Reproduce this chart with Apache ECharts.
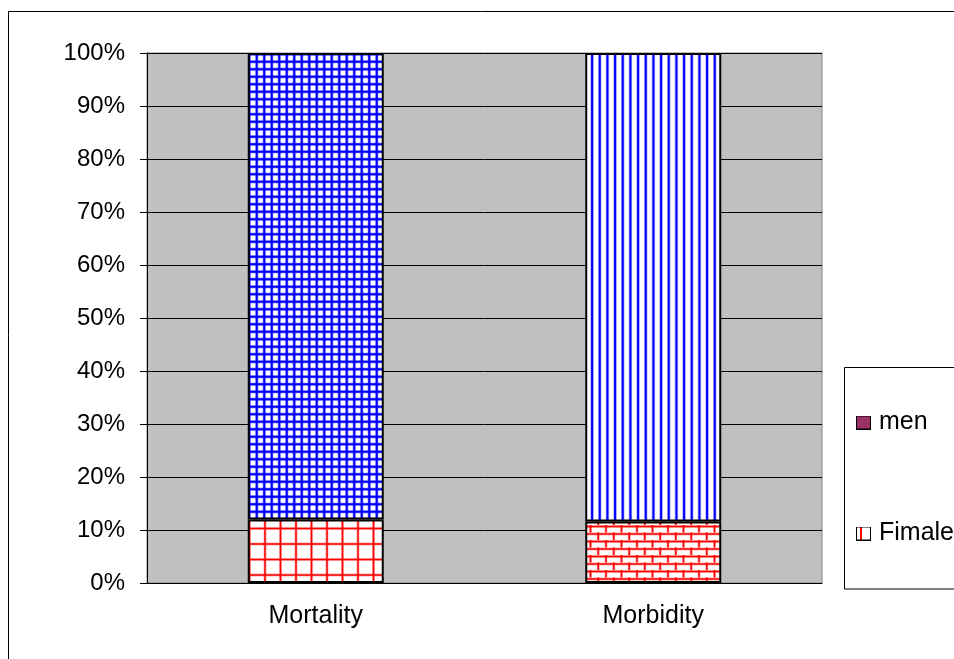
<!DOCTYPE html>
<html><head><meta charset="utf-8">
<script src="https://cdn.jsdelivr.net/npm/echarts@6/dist/echarts.min.js"></script>
<style>html,body{margin:0;padding:0;background:#fff}#c{width:954px;height:659px}</style>
</head><body><div id="c"></div>
<script>
const categories = ['Mortality', 'Morbidity'];
const femaleValues = [12, 11.6];
const menValues = [88, 88.4];
const seriesNames = ['men', 'Fimale'];

function mkCanvas(w, h, draw) {
  const c = document.createElement('canvas');
  c.width = w; c.height = h;
  const x = c.getContext('2d');
  x.fillStyle = '#fff'; x.fillRect(0, 0, w, h);
  draw(x);
  return c;
}
function pat(w, h, draw) { return { image: mkCanvas(w, h, draw), repeat: 'repeat' }; }

const blueGrid = pat(15, 15, x => {
  x.fillStyle = 'rgba(0,0,255,0.3)';
  [0, 7.5].forEach(p => { x.fillRect(p, 0, 3.5, 15); x.fillRect(0, p, 15, 3.5); });
  x.fillStyle = '#0000ff';
  [0.75, 8.25].forEach(p => { x.fillRect(p, 0, 2, 15); x.fillRect(0, p, 15, 2); });
});
const redGrid = pat(31, 31, x => {
  x.fillStyle = 'rgba(255,0,0,0.3)';
  [0, 15.5].forEach(p => { x.fillRect(p, 0, 3, 31); x.fillRect(0, p, 31, 3); });
  x.fillStyle = '#ff0000';
  [0.75, 16.25].forEach(p => { x.fillRect(p, 0, 1.5, 31); x.fillRect(0, p, 31, 1.5); });
});
const blueVert = pat(23, 4, x => {
  x.fillStyle = 'rgba(0,0,255,0.3)';
  [0, 7.67, 15.33].forEach(p => x.fillRect(p, 0, 3.5, 4));
  x.fillStyle = '#0000ff';
  [0.75, 8.42, 16.08].forEach(p => x.fillRect(p, 0, 2, 4));
});
const brick = pat(31, 15, x => {
  x.fillStyle = 'rgba(255,0,0,0.3)';
  [0, 7.5].forEach(p => x.fillRect(0, p, 31, 3));
  [0, 15.5].forEach(p => x.fillRect(p, 0, 3, 7.5));
  [7.75, 23.25].forEach(p => x.fillRect(p, 7.5, 3, 7.5));
  x.fillStyle = '#ff0000';
  [0.75, 8.25].forEach(p => x.fillRect(0, p, 31, 1.5));
  [0.75, 16.25].forEach(p => x.fillRect(p, 0, 1.5, 7.5));
  [8.5, 24].forEach(p => x.fillRect(p, 7.5, 1.5, 7.5));
});

const menIcon = 'image://' + mkCanvas(15, 14, x => {
  x.fillStyle = '#993366'; x.fillRect(0, 0, 15, 14);
  x.strokeStyle = '#000'; x.lineWidth = 1; x.strokeRect(0.5, 0.5, 14, 13);
}).toDataURL();
const femIcon = 'image://' + mkCanvas(15, 14, x => {
  x.fillStyle = '#ff0000'; x.fillRect(4, 0, 2, 14);
  x.strokeStyle = '#000'; x.lineWidth = 1; x.strokeRect(0.5, 0.5, 14, 13);
}).toDataURL();

const menPatterns = [blueGrid, blueVert];
const femPatterns = [redGrid, brick];

const font = 'Liberation Sans, Arial, sans-serif';
const chart = echarts.init(document.getElementById('c'));
chart.setOption({
  animation: false,
  backgroundColor: '#fff',
  graphic: [
    { type: 'rect', shape: { x: 8.5, y: 11.5, width: 2000, height: 2000 }, style: { fill: 'none', stroke: '#000', lineWidth: 1 }, z: -10, silent: true },
    { type: 'rect', shape: { x: 844.5, y: 367.5, width: 300, height: 221.5 }, style: { fill: '#fff', stroke: '#000', lineWidth: 1 }, z: -5, silent: true }
  ],
  grid: { left: 147, right: 132, top: 53, bottom: 76, show: true, backgroundColor: '#C0C0C0', borderColor: '#808080', borderWidth: 1 },
  legend: {
    orient: 'vertical', left: 856, top: 410, padding: 0, itemGap: 86,
    itemWidth: 15, itemHeight: 14,
    textStyle: { fontFamily: font, fontSize: 25, color: '#000', lineHeight: 24, padding: [0, 0, 0, 3] },
    data: [{ name: seriesNames[0], icon: menIcon }, { name: seriesNames[1], icon: femIcon }]
  },
  xAxis: {
    type: 'category', data: categories,
    axisLine: { lineStyle: { color: '#000', width: 1 } },
    axisTick: { length: 7, lineStyle: { color: '#000' } },
    axisLabel: { fontFamily: font, fontSize: 25, color: '#000', margin: 21 }
  },
  yAxis: {
    type: 'value', min: 0, max: 100, interval: 10,
    axisLine: { show: true, lineStyle: { color: '#000', width: 1 } },
    axisTick: { show: true, length: 7, lineStyle: { color: '#000' } },
    splitLine: { lineStyle: { color: '#000', width: 1 } },
    axisLabel: { fontFamily: font, fontSize: 24, color: '#000', margin: 22, formatter: '{value}%' }
  },
  series: [
    {
      name: seriesNames[1], type: 'bar', stack: 's', barWidth: 136,
      itemStyle: { borderColor: '#000', borderWidth: 2, color: redGrid },
      data: femaleValues.map((v, i) => ({ value: v, itemStyle: { color: femPatterns[i] } }))
    },
    {
      name: seriesNames[0], type: 'bar', stack: 's', barWidth: 136,
      itemStyle: { borderColor: '#000', borderWidth: 2, color: blueGrid },
      data: menValues.map((v, i) => ({ value: v, itemStyle: { color: menPatterns[i] } }))
    }
  ]
});
</script></body></html>
